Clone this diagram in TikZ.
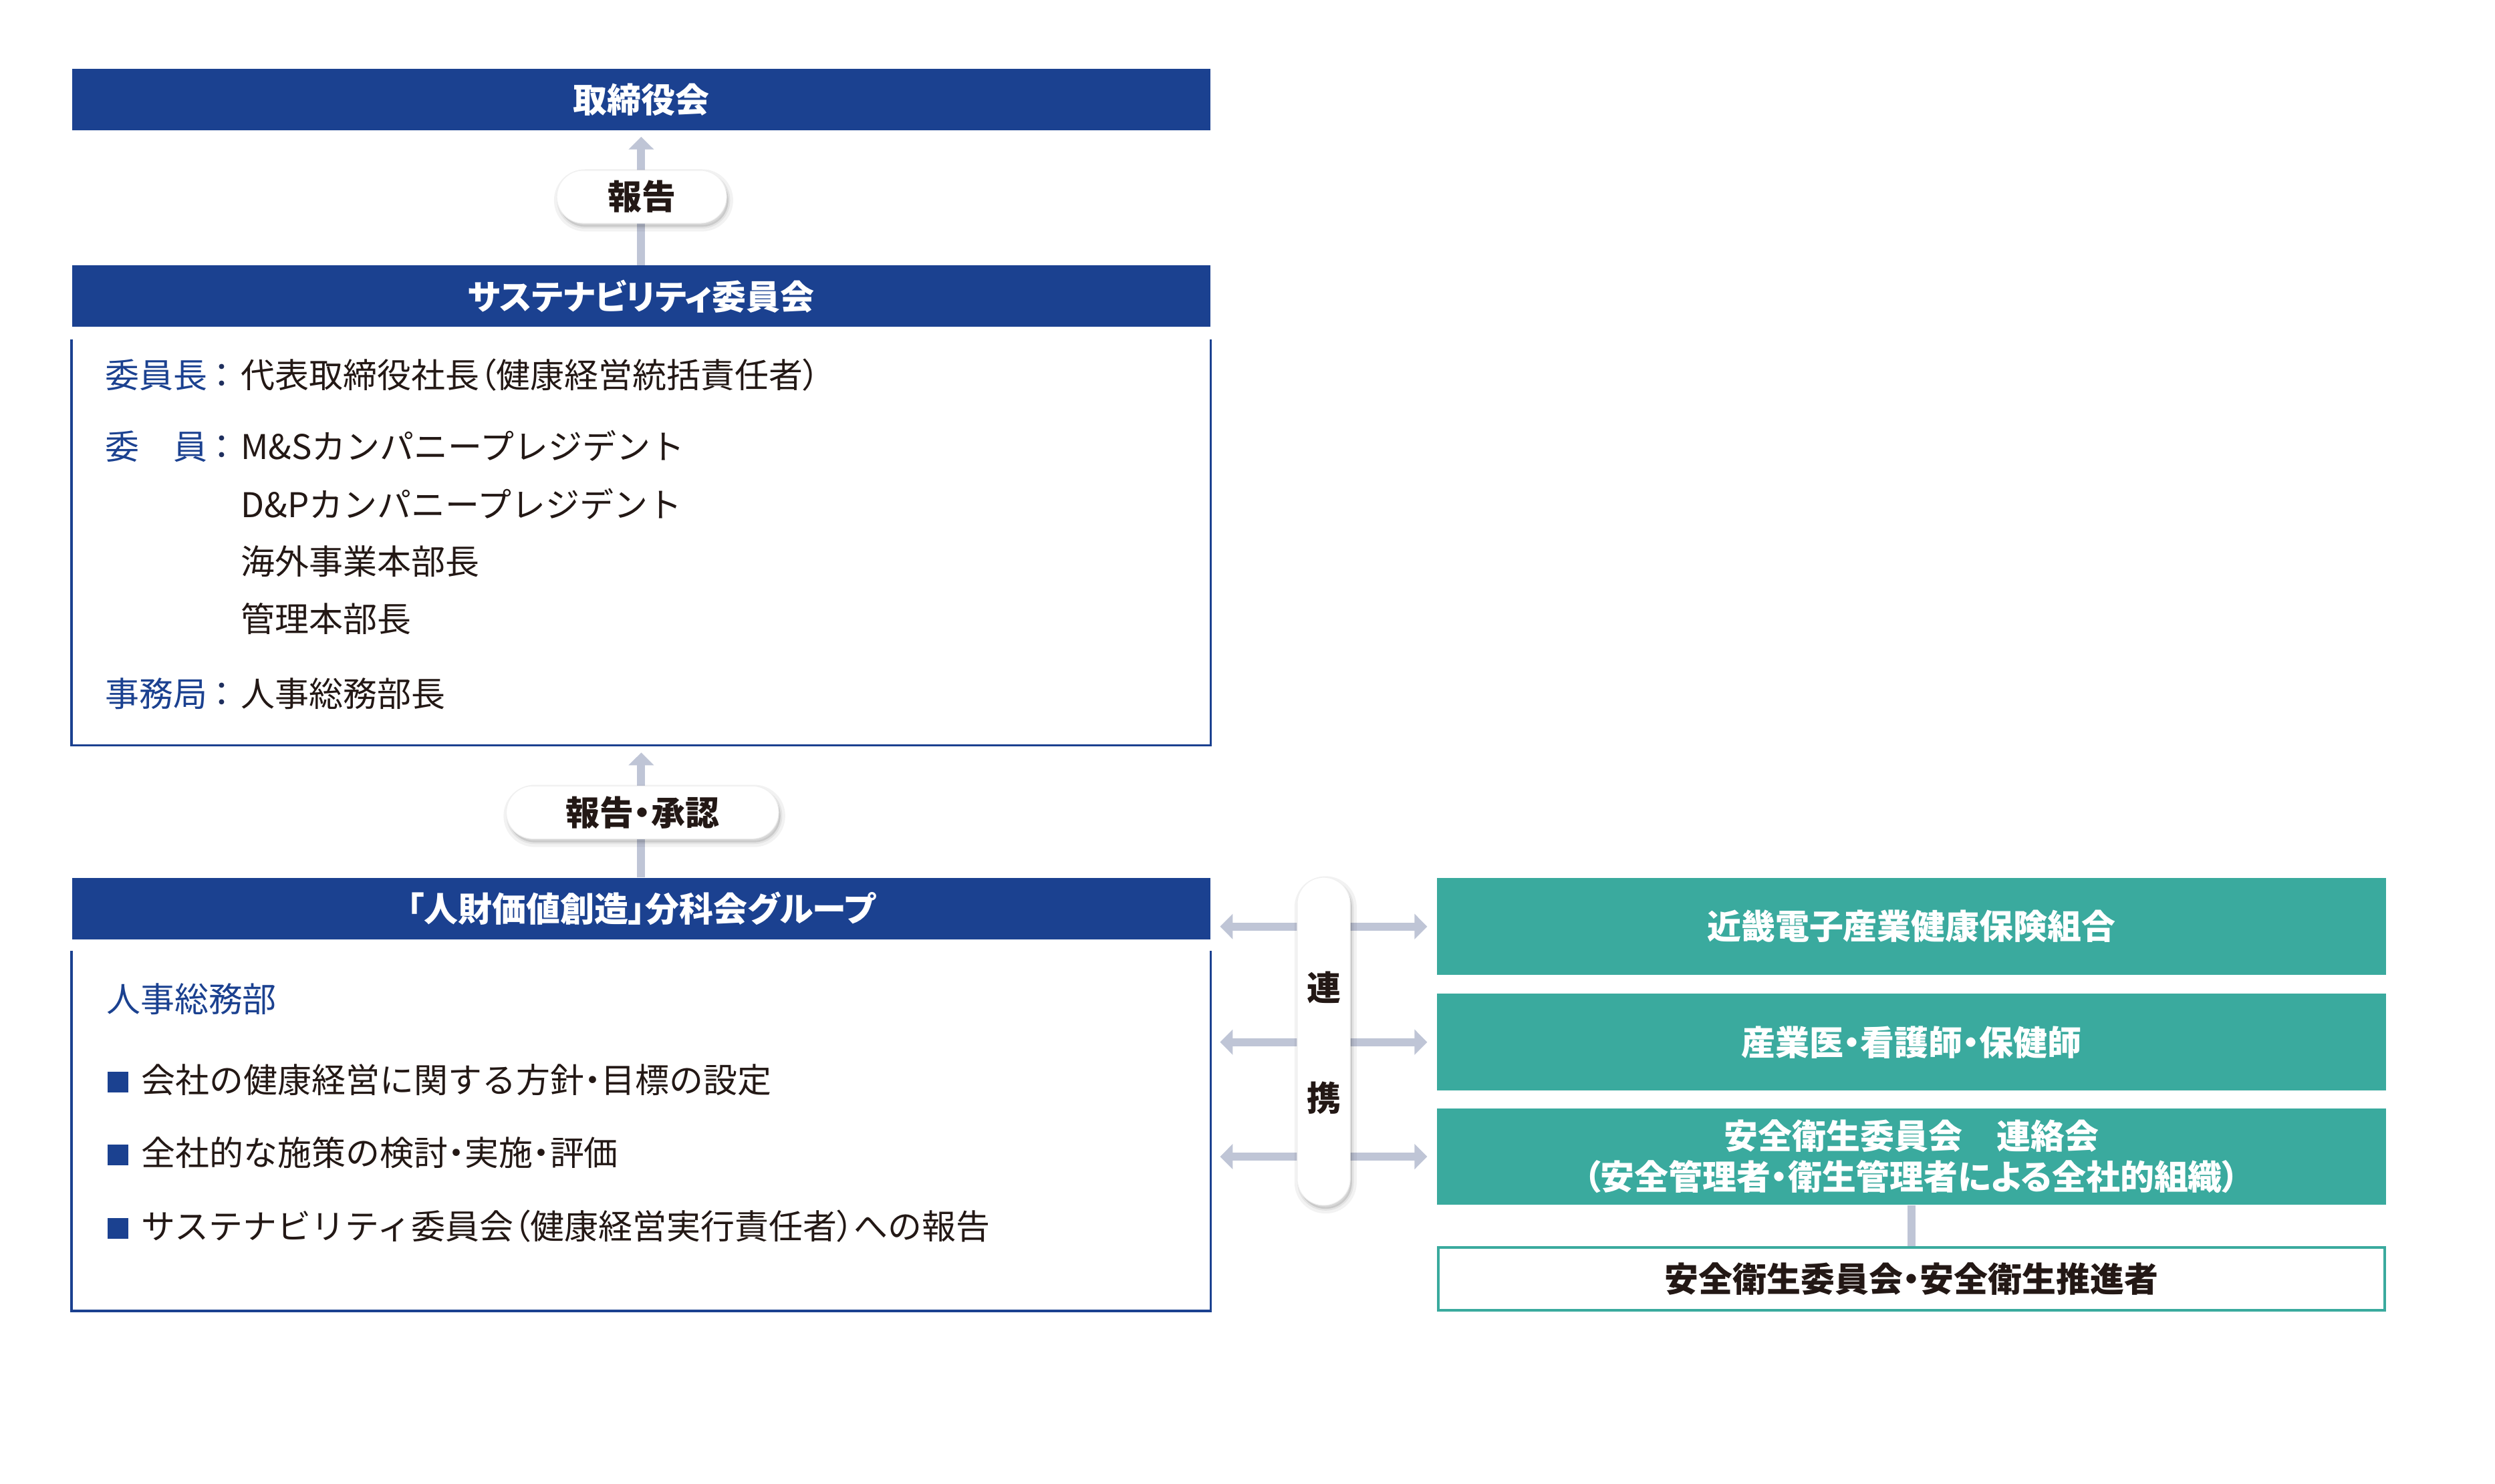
\documentclass[tikz,border=0pt]{standalone}
\usepackage{fontspec}
\setmainfont{Noto Sans CJK JP}[BoldFeatures={RawFeature=+palt}]
\newfontfamily\pf{Noto Sans CJK JP}[RawFeature=+palt]
\usetikzlibrary{arrows.meta,shadows}
\definecolor{dblue}{HTML}{1B4190}
\definecolor{cblue}{HTML}{1F2F5E}
\definecolor{tealc}{HTML}{3AAA9E}
\definecolor{arrowc}{HTML}{BFC5D6}
\definecolor{ink}{HTML}{231815}
\newcommand\jfs{\fontsize{14.5pt}{17.3pt}\selectfont}
\newcommand\pp[1]{{\pf #1}}
\begin{document}
\begin{tikzpicture}[x=0.02383cm, y=-0.02383cm,
  every node/.style={font=\jfs, text=ink},
  bar/.style={fill=dblue, text=white, font=\jfs\bfseries, minimum width=17.034cm, minimum height=0.917cm, inner sep=0},
  framebox/.style={minimum width=17.034cm, inner sep=0},
  frame/.style={draw=dblue, line width=1pt},
  pill/.style={fill=white, draw=black!6, line width=0.3pt, rounded corners=0.395cm, minimum height=0.791cm, font=\jfs\bfseries, inner sep=0,
    drop shadow={shadow xshift=0.8pt, shadow yshift=-1.5pt, opacity=0.05, fill=black, draw=black, line width=4pt},
    drop shadow={shadow xshift=0.8pt, shadow yshift=-1.5pt, opacity=0.06, fill=black, draw=black, line width=1.5pt}},
  tealbox/.style={fill=tealc, text=white, font=\jfs\bfseries, minimum width=14.198cm, minimum height=1.449cm, inner sep=0, align=center},
  promobox/.style={draw=tealc, line width=1.15pt, fill=white, minimum width=14.158cm, minimum height=0.937cm, font=\jfs\bfseries, inner sep=0},
  conn/.style={draw=arrowc, line width=0.12cm},
  arr/.style={conn, -{Triangle[width=0.37cm,length=0.19cm]}},
  darr/.style={conn, {Triangle[width=0.37cm,length=0.19cm]}-{Triangle[width=0.37cm,length=0.19cm]}},
  lbl/.style={anchor=west, inner sep=0, text=dblue, text height=0.88em, text depth=0.12em},
  colon/.style={inner sep=0, text=cblue, text height=0.88em, text depth=0.12em},
  val/.style={anchor=west, inner sep=0, text height=0.88em, text depth=0.12em},
  sq/.style={fill=dblue, minimum size=0.31cm, inner sep=0}
]
\useasboundingbox[fill=white] (0,0) rectangle (1566.5,932);

% left column bars and frames
\node[bar] (board) at (402.6,62.6) {取締役会};
\node[bar] (sus) at (402.6,186) {サステナビリティ委員会};
\node[framebox, minimum height=6.065cm] (susbox) at (402.6,340.5) {};
\draw[frame] (susbox.north west) -- (susbox.south west) -- (susbox.south east) -- (susbox.north east);
\node[bar] (hr) at (402.6,570.7) {「人財価値創造」分科会グループ};
\node[framebox, minimum height=5.379cm] (hrbox) at (402.6,710.2) {};
\draw[frame] (hrbox.north west) -- (hrbox.south west) -- (hrbox.south east) -- (hrbox.north east);

% committee members
\node[lbl] (l1) at (66,238) {委員長};
\node[colon] (c1) at (139.2,238) {：};
\node[val] (v1) at (151,238) {代表取締役社長\pp{（}健康経営統括責任者\pp{）}};
\node[lbl] (l2) at (66,283) {委　員};
\node[colon] (c2) at (139.2,283) {：};
\node[val] (v2) at (151,283) {M\&Sカンパニープレジデント};
\node[val] (v3) at (151,319.3) {D\&Pカンパニープレジデント};
\node[val] (v4) at (151,355) {海外事業本部長};
\node[val] (v5) at (151,391) {管理本部長};
\node[lbl] (l6) at (66,438) {事務局};
\node[colon] (c6) at (139.2,438) {：};
\node[val] (v6) at (151,438) {人事総務部長};

% HR group contents
\node[lbl] (dept) at (66.5,630) {人事総務部};
\node[sq] (s1) at (74,679.5) {};
\node[val] (i1) at (88.5,680.5) {会社の健康経営に関する方針\pp{・}目標の設定};
\node[sq] (s2) at (74,725.5) {};
\node[val] (i2) at (88.5,726.5) {全社的な施策の検討\pp{・}実施\pp{・}評価};
\node[sq] (s3) at (74,771.5) {};
\node[val] (i3) at (88.5,772.5) {サステナビリティ委員会\pp{（}健康経営実行責任者\pp{）}への報告};

% right column
\node[tealbox] (kenpo) at (1200.1,581.9) {近畿電子産業健康保険組合};
\node[tealbox] (doctor) at (1200.1,654.5) {産業医・看護師・保健師};
\node[tealbox] (safety) at (1200.1,726.4) {安全衛生委員会　連絡会\\（安全管理者・衛生管理者による全社的組織）};
\node[promobox] (promo) at (1200.1,803.1) {安全衛生委員会・安全衛生推進者};
\draw[conn] (safety.south) -- (promo.north);

% arrows
\draw[arr, shorten >=0.09cm] (sus.north) -- (board.south);
\draw[arr, shorten >=0.11cm] (hr.north) -- (susbox.south);
\foreach \t in {kenpo,doctor,safety}{
  \draw[darr, shorten <=0.138cm, shorten >=0.14cm] (\t.west -| hr.east) -- (\t.west);
}

% pills
\node[pill, minimum width=2.54cm] (rep1) at (402.9,123.6) {報告};
\node[pill, minimum width=4.075cm] (rep2) at (403.4,510.2) {報告・承認};
\node[pill, minimum width=0.791cm, minimum height=4.909cm] (renkei) at (831.1,654) {};
\node[font=\jfs\bfseries, inner sep=0] (ren) at (831.1,620) {連};
\node[font=\jfs\bfseries, inner sep=0] (kei) at (831.1,689.5) {携};
\end{tikzpicture}
\end{document}
